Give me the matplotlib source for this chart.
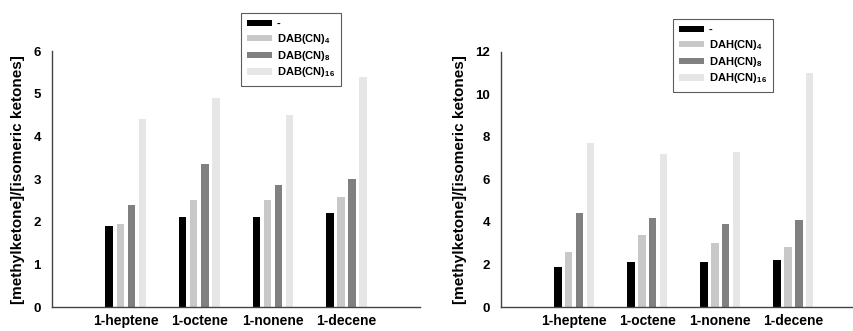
import numpy as np
import matplotlib
matplotlib.use("Agg")
import matplotlib.pyplot as plt

plt.rcParams['font.family'] = ['Liberation Sans', 'DejaVu Sans']
plt.rcParams['font.weight'] = 'bold'
plt.rcParams['mathtext.fontset'] = 'custom'
plt.rcParams['mathtext.rm'] = 'Liberation Sans:bold'
plt.rcParams['mathtext.it'] = 'Liberation Sans:bold'
plt.rcParams['mathtext.bf'] = 'Liberation Sans:bold'

alkenes = ["1-heptene", "1-octene", "1-nonene", "1-decene"]

dab_labels = ["-", r"DAB(CN)$_{4}$", r"DAB(CN)$_{8}$", r"DAB(CN)$_{16}$"]
dab_none = [1.9, 2.1, 2.1, 2.2]
dab_4 = [1.95, 2.5, 2.5, 2.57]
dab_8 = [2.4, 3.35, 2.85, 3.0]
dab_16 = [4.4, 4.9, 4.5, 5.4]

dah_labels = ["-", r"DAH(CN)$_{4}$", r"DAH(CN)$_{8}$", r"DAH(CN)$_{16}$"]
dah_none = [1.9, 2.1, 2.1, 2.2]
dah_4 = [2.6, 3.4, 3.0, 2.8]
dah_8 = [4.4, 4.2, 3.9, 4.1]
dah_16 = [7.7, 7.2, 7.3, 11.0]

colors = ["#000000", "#c8c8c8", "#808080", "#e6e6e6"]
offsets = [-0.225, -0.075, 0.075, 0.225]
ylabel = "[methylketone]/[isomeric ketones]"


def panel(ax, series, labels, ymax, step, xmax, legend_anchor):
    x = np.arange(len(alkenes))
    for vals, lab, col, off in zip(series, labels, colors, offsets):
        ax.bar(x + off, vals, width=0.1, color=col, label=lab)
    ax.set_xlim(-1.0, xmax)
    ax.set_ylim(0, ymax)
    ax.set_yticks(np.arange(0, ymax + 0.1, step))
    ax.set_xticks(x)
    ax.set_xticklabels(alkenes, fontsize=10, fontweight='bold')
    for t in ax.get_yticklabels():
        t.set_fontsize(9.5)
        t.set_fontweight('bold')
    ax.tick_params(length=0, pad=8)
    ax.tick_params(axis='x', pad=5)
    for s in ["top", "right"]:
        ax.spines[s].set_visible(False)
    for s in ["left", "bottom"]:
        ax.spines[s].set_color("#444444")
        ax.spines[s].set_linewidth(1.0)
    ax.set_ylabel(ylabel, fontsize=11, fontweight='bold', labelpad=6)
    leg = ax.legend(loc='upper left', bbox_to_anchor=legend_anchor,
                    bbox_transform=ax.figure.transFigure,
                    fontsize=8, handlelength=2.2, handleheight=0.5,
                    labelspacing=0.25, borderpad=0.55, borderaxespad=0,
                    fancybox=False, frameon=True, handletextpad=0.45)
    leg.get_frame().set_edgecolor("#333333")
    leg.get_frame().set_linewidth(0.8)


fig = plt.figure(figsize=(8.54, 3.31), dpi=100)
ax1 = fig.add_axes([0.061, 0.0725, 0.431, 0.773])
ax2 = fig.add_axes([0.587, 0.0725, 0.413, 0.771])

panel(ax1, [dab_none, dab_4, dab_8, dab_16], dab_labels, 6, 1, 4.0,
      (241 / 854, 1 - 13 / 331))
panel(ax2, [dah_none, dah_4, dah_8, dah_16], dah_labels, 12, 2, 3.83,
      (673 / 854, 1 - 19 / 331))

fig.savefig("out.png", dpi=100)
